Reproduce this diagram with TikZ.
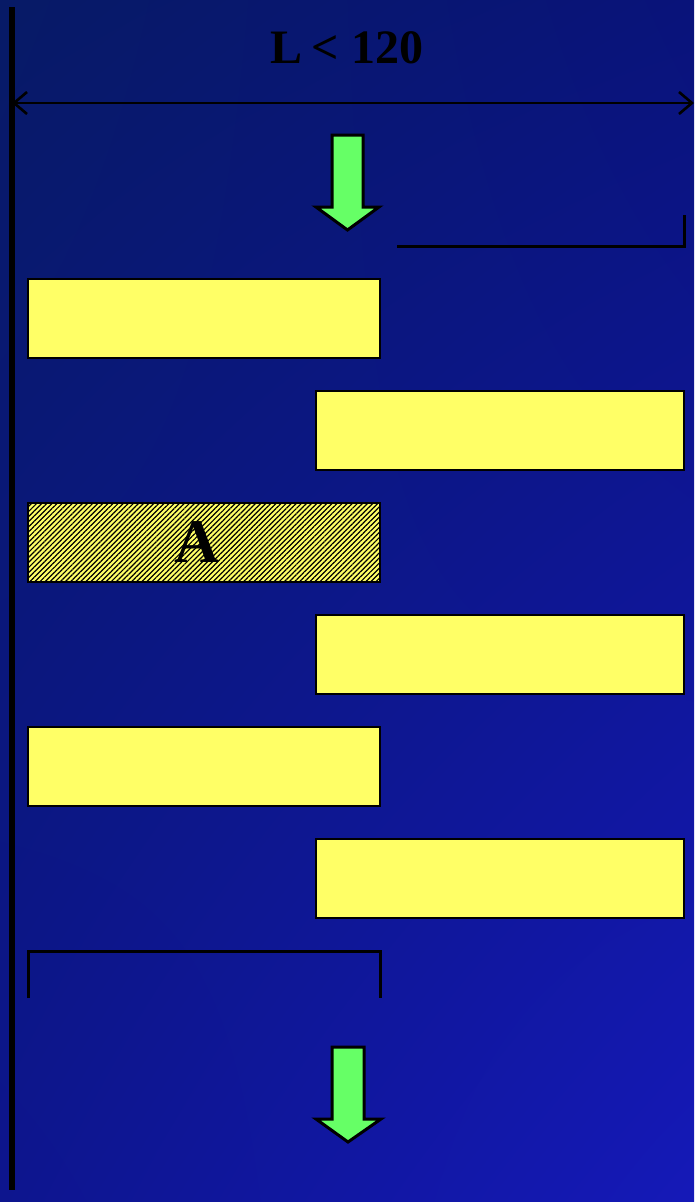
\documentclass[tikz,border=0pt]{standalone}
\usepackage{fontspec}
\setmainfont{Liberation Serif}
\usetikzlibrary{arrows.meta,patterns.meta,shadings}
\definecolor{bgtl}{HTML}{071A66}
\definecolor{bgtr}{HTML}{09137A}
\definecolor{bgbl}{HTML}{0D158E}
\definecolor{bgbr}{HTML}{1519B8}
\definecolor{barY}{HTML}{FFFF66}
\definecolor{arrG}{HTML}{66FF66}
\tikzset{
  bar/.style={draw=black, line width=2.5pt, fill=barY},
  hatchbar/.style={bar, postaction={pattern={Lines[angle=45,distance=3.6pt,line width=1.2pt]}, pattern color=black}},
  bracket/.style={draw=black, line width=3pt},
  greenarrow/.style={draw=black, line width=3pt, fill=arrG, line join=miter},
  dimline/.style={draw=black, line width=2.6pt, {Straight Barb[length=13pt,width=22pt,line width=2.6pt]}-{Straight Barb[length=13pt,width=22pt,line width=2.6pt]}},
  lbl/.style={font=\bfseries, text=black, inner sep=0pt}
}
\begin{document}
\begin{tikzpicture}[x=1pt,y=-1pt]
\useasboundingbox (0,0) rectangle (694,1202);
\shade[upper left=bgtl, upper right=bgtr, lower left=bgbl, lower right=bgbr] (0,0) rectangle (694,1202);
% vertical wall
\draw[line width=5.5pt] (12,7) -- (12,1190);
% dimension
\coordinate (dl) at (12,103);
\coordinate (dr) at (694,103);
\draw[dimline] (dl) -- (dr);
\node[lbl, font=\bfseries\fontsize{48}{50}\selectfont] (L) at (347,48) {L\kern-3pt{} < 120};
% top green arrow
\draw[greenarrow] (332,135) -- (363,135) -- (363,207) -- (379,207) -- (347.5,230) -- (316,207) -- (332,207) -- cycle;
% top bracket
\coordinate (tb1) at (397,246);
\coordinate (tb2) at (684,246);
\coordinate (tb3) at (684,215);
\draw[bracket] (tb1) -- (tb2) -- (tb3);
% bars
\draw[bar] (28,279) rectangle (380,358);
\draw[bar] (316,391) rectangle (684,470);
\draw[hatchbar] (28,503) rectangle (380,582);
\node[lbl, font=\bfseries\fontsize{62}{64}\selectfont] (A) at (197,542) {A};
\draw[bar] (316,615) rectangle (684,694);
\draw[bar] (28,727) rectangle (380,806);
\draw[bar] (316,839) rectangle (684,918);
% bottom bracket
\coordinate (bb1) at (28,998);
\coordinate (bb2) at (28,951);
\coordinate (bb3) at (380,951);
\coordinate (bb4) at (380,998);
\draw[bracket] (bb1) -- (bb2) -- (bb3) -- (bb4);
% bottom green arrow
\draw[greenarrow] (332,1047) -- (364,1047) -- (364,1119) -- (381,1119) -- (348,1142) -- (316,1119) -- (332,1119) -- cycle;
\end{tikzpicture}
\end{document}
